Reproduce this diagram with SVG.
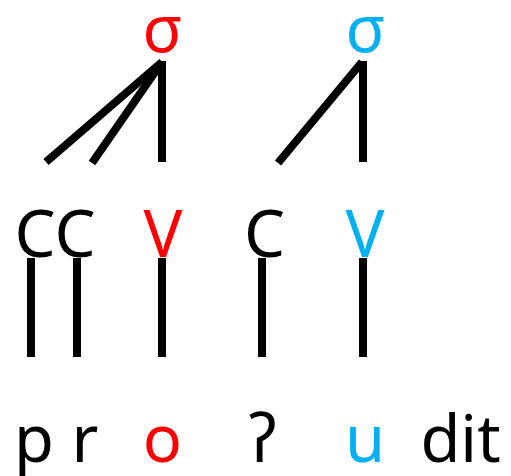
<svg xmlns="http://www.w3.org/2000/svg" width="511" height="476" viewBox="0 0 511 476">
<style>
text{font-family:"Noto Sans","Open Sans","DejaVu Sans",sans-serif;font-size:65px;text-anchor:middle;fill:#000}
.r{fill:#FF0000}
.b{fill:#00B0F0}
line{stroke:#000;stroke-width:8;stroke-linecap:butt}
</style>
<rect width="511" height="476" fill="#fff"/>
<g id="connectors">
<line x1="162" y1="62" x2="46" y2="162"/>
<line x1="162" y1="62" x2="92" y2="163"/>
<line x1="162" y1="61" x2="162" y2="162"/>
<line x1="362" y1="62" x2="278" y2="163"/>
<line x1="363" y1="61" x2="363" y2="162"/>
<line x1="31" y1="258" x2="31" y2="357"/>
<line x1="77" y1="258" x2="77" y2="357"/>
<line x1="162" y1="258" x2="162" y2="357"/>
<line x1="262" y1="258" x2="262" y2="357"/>
<line x1="363" y1="258" x2="363" y2="357"/>
</g>
<g id="sigma1"><text class="r" x="162.5" y="52">σ</text></g>
<g id="sigma2"><text class="b" x="365.5" y="52">σ</text></g>
<g id="C1"><text x="35" y="257">C</text></g>
<g id="C2"><text x="75" y="257">C</text></g>
<g id="V1"><text class="r" x="163" y="257">V</text></g>
<g id="C3"><text x="264.5" y="257">C</text></g>
<g id="V2"><text class="b" x="365" y="257">V</text></g>
<g id="p"><text x="34" y="462">p</text></g>
<g id="r"><text x="85" y="462">r</text></g>
<g id="o"><text class="r" x="162.5" y="462">o</text></g>
<g id="glottal"><text x="262.5" y="462">ʔ</text></g>
<g id="u"><text class="b" x="365" y="462">u</text></g>
<g id="dit"><text x="460.5" y="462">dit</text></g>
</svg>
